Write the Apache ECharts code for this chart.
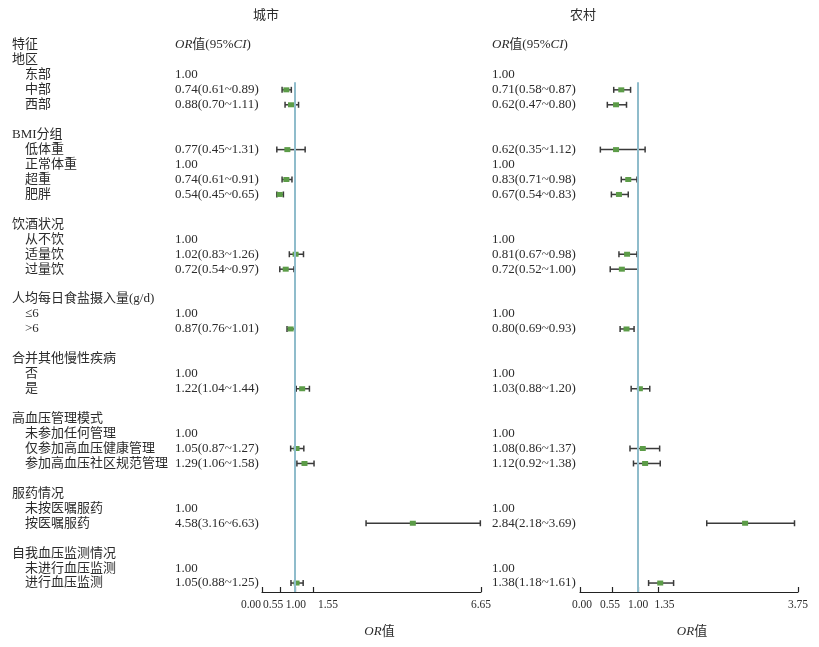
<!DOCTYPE html>
<html>
<head>
<meta charset="utf-8">
<script src="https://cdn.jsdelivr.net/npm/echarts@6/dist/echarts.min.js"></script>
<style>
  html, body { margin: 0; padding: 0; background: #fff; }
  #main { width: 819px; height: 647px; }
</style>
</head>
<body>
<div id="main"></div>
<script>
  // one entry per row, '' = empty spacer row
  var features = ['特征', '地区', '东部', '中部', '西部', '',
    'BMI分组', '低体重', '正常体重', '超重', '肥胖', '',
    '饮酒状况', '从不饮', '适量饮', '过量饮', '',
    '人均每日食盐摄入量(g/d)', '≤6', '>6', '',
    '合并其他慢性疾病', '否', '是', '',
    '高血压管理模式', '未参加任何管理', '仅参加高血压健康管理', '参加高血压社区规范管理', '',
    '服药情况', '未按医嘱服药', '按医嘱服药', '',
    '自我血压监测情况', '未进行血压监测', '进行血压监测']
  var groupRows = [0, 1, 6, 12, 17, 21, 25, 30, 34]

  // OR = 1 with no CI -> reference group
  var cityOR = [null, null, 1.00, 0.74, 0.88, null, null, 0.77, 1.00, 0.74, 0.54, null, null, 1.00, 1.02, 0.72, null, null, 1.00, 0.87, null, null, 1.00, 1.22, null, null, 1.00, 1.05, 1.29, null, null, 1.00, 4.58, null, null, 1.00, 1.05]
  var cityLow = [null, null, null, 0.61, 0.70, null, null, 0.45, null, 0.61, 0.45, null, null, null, 0.83, 0.54, null, null, null, 0.76, null, null, null, 1.04, null, null, null, 0.87, 1.06, null, null, null, 3.16, null, null, null, 0.88]
  var cityHigh = [null, null, null, 0.89, 1.11, null, null, 1.31, null, 0.91, 0.65, null, null, null, 1.26, 0.97, null, null, null, 1.01, null, null, null, 1.44, null, null, null, 1.27, 1.58, null, null, null, 6.63, null, null, null, 1.25]

  var ruralOR = [null, null, 1.00, 0.71, 0.62, null, null, 0.62, 1.00, 0.83, 0.67, null, null, 1.00, 0.81, 0.72, null, null, 1.00, 0.80, null, null, 1.00, 1.03, null, null, 1.00, 1.08, 1.12, null, null, 1.00, 2.84, null, null, 1.00, 1.38]
  var ruralLow = [null, null, null, 0.58, 0.47, null, null, 0.35, null, 0.71, 0.54, null, null, null, 0.67, 0.52, null, null, null, 0.69, null, null, null, 0.88, null, null, null, 0.86, 0.92, null, null, null, 2.18, null, null, null, 1.18]
  var ruralHigh = [null, null, null, 0.87, 0.80, null, null, 1.12, null, 0.98, 0.83, null, null, null, 0.98, 1.00, null, null, null, 0.93, null, null, null, 1.20, null, null, null, 1.37, 1.38, null, null, null, 3.69, null, null, null, 1.61]

  var cityTicks = [0, 0.55, 1.00, 1.55, 6.65]
  var ruralTicks = [0, 0.55, 1.00, 1.35, 3.75]
  var refOR = 1

  // layout
  var FONT = '"Liberation Serif", "Noto Sans CJK SC", serif'
  var TXT = '#2b2b2b'
  var yMax = 36.6
  var refTopRow = 2.5
  // tick labels are nudged sideways in the original so they don't collide
  var cityLabelShift = [-11, -7, 1, 15, 0]
  var ruralLabelShift = [2, -2, 0, 6, 0]

  var rows = features.map(function (f, i) { return i })

  function ciData(or, lo, hi) {
    var out = []
    rows.forEach(function (i) {
      if (lo[i] != null) out.push([or[i], lo[i], hi[i], i])
    })
    return out
  }

  function orText(or, lo, hi) {
    return function (v) {
      var i = Math.round(v)
      if (i === 0) return '{i|OR}{n|值(95%}{i|CI}{n|)}'
      if (or[i] == null) return ''
      if (lo[i] == null) return '{n|' + or[i].toFixed(2) + '}'
      return '{n|' + or[i].toFixed(2) + '(' + lo[i].toFixed(2) + '~' + hi[i].toFixed(2) + ')}'
    }
  }

  var baseRich = {
    n: { fontFamily: FONT, fontSize: 13, color: TXT },
    i: { fontFamily: FONT, fontSize: 13, color: TXT, fontStyle: 'italic' },
    g: { fontFamily: FONT, fontSize: 13, color: TXT },
    s: { fontFamily: FONT, fontSize: 13, color: TXT, padding: [0, 0, 0, 13] }
  }

  function renderCI(params, api) {
    var y = api.value(3)
    var pt = api.coord([api.value(0), y])
    var lo = api.coord([api.value(1), y])
    var hi = api.coord([api.value(2), y])
    var cap = 3
    var st = { stroke: '#3a3a3a', lineWidth: 1.5 }
    return {
      type: 'group',
      children: [
        { type: 'line', shape: { x1: lo[0], y1: lo[1], x2: hi[0], y2: hi[1] }, style: st },
        { type: 'line', shape: { x1: lo[0], y1: lo[1] - cap, x2: lo[0], y2: lo[1] + cap }, style: st },
        { type: 'line', shape: { x1: hi[0], y1: hi[1] - cap, x2: hi[0], y2: hi[1] + cap }, style: st },
        { type: 'rect', shape: { x: pt[0] - 3, y: pt[1] - 2.5, width: 6, height: 5 }, style: { fill: '#5c9c48' } }
      ]
    }
  }

  function yAxisFor(grid, formatter, margin) {
    return {
      gridIndex: grid,
      type: 'value',
      position: 'left',
      inverse: true,
      min: 0,
      max: yMax,
      axisLine: { show: false },
      axisTick: { show: false },
      splitLine: { show: false },
      axisLabel: {
        customValues: rows,
        formatter: formatter,
        align: 'left',
        margin: margin,
        rich: baseRich
      }
    }
  }

  function xAxisFor(grid, max, ticks, namePad) {
    return {
      gridIndex: grid,
      type: 'value',
      position: 'bottom',
      min: 0,
      max: max,
      name: '{i|OR}{n|值}',
      nameLocation: 'middle',
      nameGap: 33,
      nameTextStyle: { rich: baseRich, padding: namePad },
      axisLine: { onZero: false, lineStyle: { color: '#222', width: 1.2 } },
      axisTick: { customValues: ticks, inside: true, length: 5, lineStyle: { color: '#222', width: 1.2 } },
      splitLine: { show: false },
      axisLabel: { show: false }
    }
  }

  // one invisible axis per tick label, so each label can be nudged on its own
  function labelAxes(grid, max, ticks, shifts) {
    return ticks.map(function (t, k) {
      var s = shifts[k]
      return {
        gridIndex: grid,
        type: 'value',
        position: 'bottom',
        min: 0,
        max: max,
        axisLine: { show: false, onZero: false },
        axisTick: { show: false },
        splitLine: { show: false },
        axisLabel: {
          customValues: [t],
          formatter: function (v) { return v.toFixed(2) },
          margin: 7,
          fontFamily: FONT,
          fontSize: 11.5,
          color: TXT,
          padding: s < 0 ? [0, -2 * s, 0, 0] : [0, 0, 0, 2 * s]
        }
      }
    })
  }

  function refLine() {
    return {
      symbol: 'none',
      silent: true,
      label: { show: false },
      lineStyle: { color: '#8fbccb', width: 2, type: 'solid' },
      data: [[{ coord: [refOR, refTopRow] }, { coord: [refOR, yMax] }]]
    }
  }

  var xAxes = [
    xAxisFor(0, 6.65, cityTicks, [0, 0, 0, 16]),
    xAxisFor(1, 3.75, ruralTicks, [0, 0, 0, 6])
  ].concat(labelAxes(0, 6.65, cityTicks, cityLabelShift), labelAxes(1, 3.75, ruralTicks, ruralLabelShift))

  var option = {
    animation: false,
    backgroundColor: '#fff',
    textStyle: { fontFamily: FONT },
    title: [
      { text: '城市', left: 261, top: 4, textAlign: 'center', textStyle: { fontFamily: FONT, fontSize: 13, fontWeight: 'normal', color: TXT } },
      { text: '农村', left: 578, top: 4, textAlign: 'center', textStyle: { fontFamily: FONT, fontSize: 13, fontWeight: 'normal', color: TXT } }
    ],
    grid: [
      { left: 262, top: 45, width: 219, height: 547, outerBoundsMode: 'none' },
      { left: 580, top: 45, width: 218, height: 547, outerBoundsMode: 'none' }
    ],
    xAxis: xAxes,
    yAxis: [
      yAxisFor(0, orText(cityOR, cityLow, cityHigh), 87),
      yAxisFor(0, function (v) {
        var i = Math.round(v)
        if (!features[i]) return ''
        return (groupRows.indexOf(i) >= 0 ? '{g|' : '{s|') + features[i] + '}'
      }, 250),
      yAxisFor(1, orText(ruralOR, ruralLow, ruralHigh), 88)
    ],
    series: [
      {
        type: 'custom',
        xAxisIndex: 0,
        yAxisIndex: 0,
        renderItem: renderCI,
        encode: { x: [0, 1, 2], y: 3 },
        data: ciData(cityOR, cityLow, cityHigh),
        markLine: refLine(),
        z: 3
      },
      {
        type: 'custom',
        xAxisIndex: 1,
        yAxisIndex: 2,
        renderItem: renderCI,
        encode: { x: [0, 1, 2], y: 3 },
        data: ciData(ruralOR, ruralLow, ruralHigh),
        markLine: refLine(),
        z: 3
      }
    ]
  }

  var chart = echarts.init(document.getElementById('main'))
  chart.setOption(option)
</script>
</body>
</html>
